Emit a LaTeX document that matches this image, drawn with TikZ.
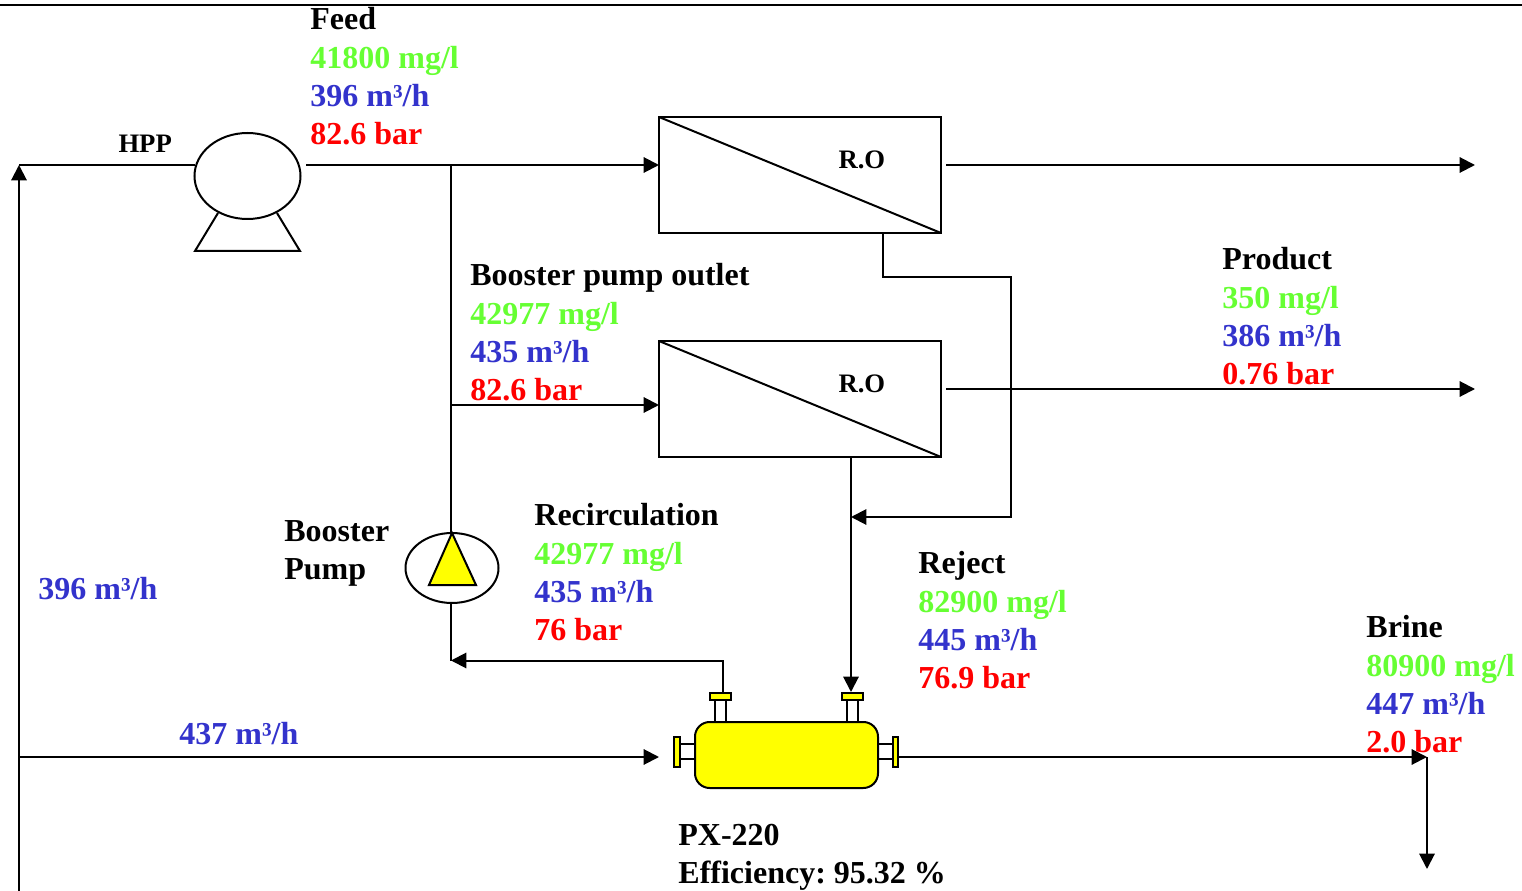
\documentclass[tikz,border=0pt]{standalone}
\usepackage{fontspec}
\setmainfont{Liberation Serif}
\frenchspacing
\usetikzlibrary{arrows.meta,shapes.geometric}
\definecolor{cgreen}{HTML}{66FF33}
\definecolor{cblue}{HTML}{3333CC}
\definecolor{cred}{HTML}{FF0000}
\definecolor{cyel}{HTML}{FFFF00}
\newcommand{\gl}[1]{\textcolor{cgreen}{#1}}
\newcommand{\bl}[1]{\textcolor{cblue}{#1}}
\newcommand{\rl}[1]{\textcolor{cred}{#1}}
\tikzset{
  x=0.75pt,y=-0.75pt,
  wire/.style={line width=1.5pt,line join=miter},
  flow/.style={wire,-{Triangle[length=11.5pt,width=11.5pt]}},
  equip/.style={draw,line width=1.5pt,inner sep=0pt,outer sep=0pt},
  robox/.style={equip,rectangle,minimum width=211.5pt,minimum height=87pt},
  nozzle/.style={draw,fill=white,line width=1.2pt},
  flange/.style={draw,fill=cyel,line width=1.5pt},
  stream/.style={anchor=north west,inner sep=0pt,outer sep=0pt,align=left,font=\fontsize{24}{28.5}\selectfont\bfseries},
  small/.style={anchor=base west,inner sep=0pt,outer sep=0pt,font=\fontsize{20}{24}\selectfont\bfseries}
}
\begin{document}
\begin{tikzpicture}
\useasboundingbox (0,0) rectangle (1522,891);
% coordinates
\coordinate (ruleL) at (0,5); \coordinate (ruleR) at (1522,5);
\coordinate (recycleBot) at (19,891);
\coordinate (recycleTop) at (19,165);
\coordinate (hppIn) at (195,165);
\coordinate (hppOut) at (306,165);
\coordinate (jFeed) at (451,165);
\coordinate (jBoost) at (451,405);
\coordinate (boostTop) at (451,533);
\coordinate (boostBot) at (451,603);
\coordinate (jRec) at (451,660.5);
\coordinate (ro1Out) at (946,165);
\coordinate (ro1End) at (1475,165);
\coordinate (ro2Out) at (946,389);
\coordinate (ro2End) at (1475,389);
\coordinate (ro1Rej) at (883,233);
\coordinate (ro2Rej) at (851,457);
\coordinate (rejJoin) at (851,517);
\coordinate (pxRejIn) at (851,692);
\coordinate (pxRecOut) at (723,692);
\coordinate (jHp) at (19,757);
\coordinate (pxHpIn) at (659,757);
\coordinate (pxBrine) at (898,757);
\coordinate (brineCorner) at (1427,757);
\coordinate (brineEnd) at (1427,869);
% labels
\node[stream] (feed) at (310.4,7) {Feed\\[0.75pt]\gl{41800 mg/l}\\\bl{396 m³/h}\\\rl{82.6 bar}};
\node[stream] (bpo) at (470.4,263) {Booster pump outlet\\[0.75pt]\gl{42977 mg/l}\\\bl{435 m³/h}\\\rl{82.6 bar}};
\node[stream] (prod) at (1222.4,247) {Product\\[0.75pt]\gl{350 mg/l}\\\bl{386 m³/h}\\\rl{0.76 bar}};
\node[stream] (recirc) at (534.4,503) {Recirculation\\[0.75pt]\gl{42977 mg/l}\\\bl{435 m³/h}\\\rl{76 bar}};
\node[stream] (reject) at (918.4,551) {Reject\\[0.75pt]\gl{82900 mg/l}\\\bl{445 m³/h}\\\rl{76.9 bar}};
\node[stream] (brine) at (1366.4,615) {Brine\\[0.75pt]\gl{80900 mg/l}\\\bl{447 m³/h}\\\rl{2.0 bar}};
\node[stream] (bplabel) at (284.4,521) {Booster\\Pump};
\node[stream] (q396) at (38.4,577) {\bl{396 m³/h}};
\node[stream] (q437) at (179.4,722) {\bl{437 m³/h}};
\node[stream] (px) at (678.4,824) {PX-220\\Efficiency: 95.32 \%};
\node[small] (hpp) at (118.5,153) {HPP};
% equipment
\node[robox] (ro1) at (800,175) {};
\node[robox] (ro2) at (800,399) {};
\draw[wire] (ro1.north west) -- (ro1.south east);
\draw[wire] (ro2.north west) -- (ro2.south east);
\node[small] (ro1t) at (838.5,169) {R.O};
\node[small] (ro2t) at (838.5,393) {R.O};
\node[equip,ellipse,fill=white,minimum width=79.5pt,minimum height=64.5pt] (hppc) at (247.5,176) {};
\draw[wire,line join=miter] (218,213) -- (195,251) -- (300,251) -- (277,213);
\node[equip,ellipse,minimum width=69.75pt,minimum height=52.5pt] (bpc) at (452,568) {};
\draw[wire,fill=cyel] (452,533) -- (476,585) -- (429,585) -- cycle;
% PX
\draw[nozzle] (715,700) rectangle (726,722);
\draw[nozzle] (847,700) rectangle (858,722);
\draw[nozzle] (680,744) rectangle (695,759);
\draw[nozzle] (878,744) rectangle (893,759);
\draw[flange] (710,692.5) rectangle (731,700);
\draw[flange] (842,692.5) rectangle (863,700);
\draw[flange] (674,737) rectangle (680,767);
\draw[flange] (893,737) rectangle (898,767);
\draw[wire,fill=cyel,rounded corners=11pt] (695,722) rectangle (878,788);
% connectors
\draw[line width=1.1pt] (ruleL) -- (ruleR);
\draw[flow] (recycleBot) -- (recycleTop);
\draw[wire] (recycleTop) -- (hppIn);
\draw[flow] (hppOut) -- (ro1.west |- hppOut);
\draw[wire] (jFeed) -- (boostTop);
\draw[flow] (jBoost) -- (ro2.west |- jBoost);
\draw[flow] (pxRecOut) |- (jRec);
\draw[wire] (boostBot) -- (jRec);
\draw[flow] (ro1Out) -- (ro1End);
\draw[flow] (ro2Out) -- (ro2End);
\draw[flow] (ro1Rej) -- (883,277) -- (1011,277) -- (1011,517) -- (rejJoin);
\draw[flow] (ro2Rej) -- (pxRejIn);
\draw[flow] (jHp) -- (pxHpIn);
\draw[flow] (pxBrine) -- (brineCorner);
\draw[flow] (brineCorner) -- (brineEnd);
\end{tikzpicture}
\end{document}
